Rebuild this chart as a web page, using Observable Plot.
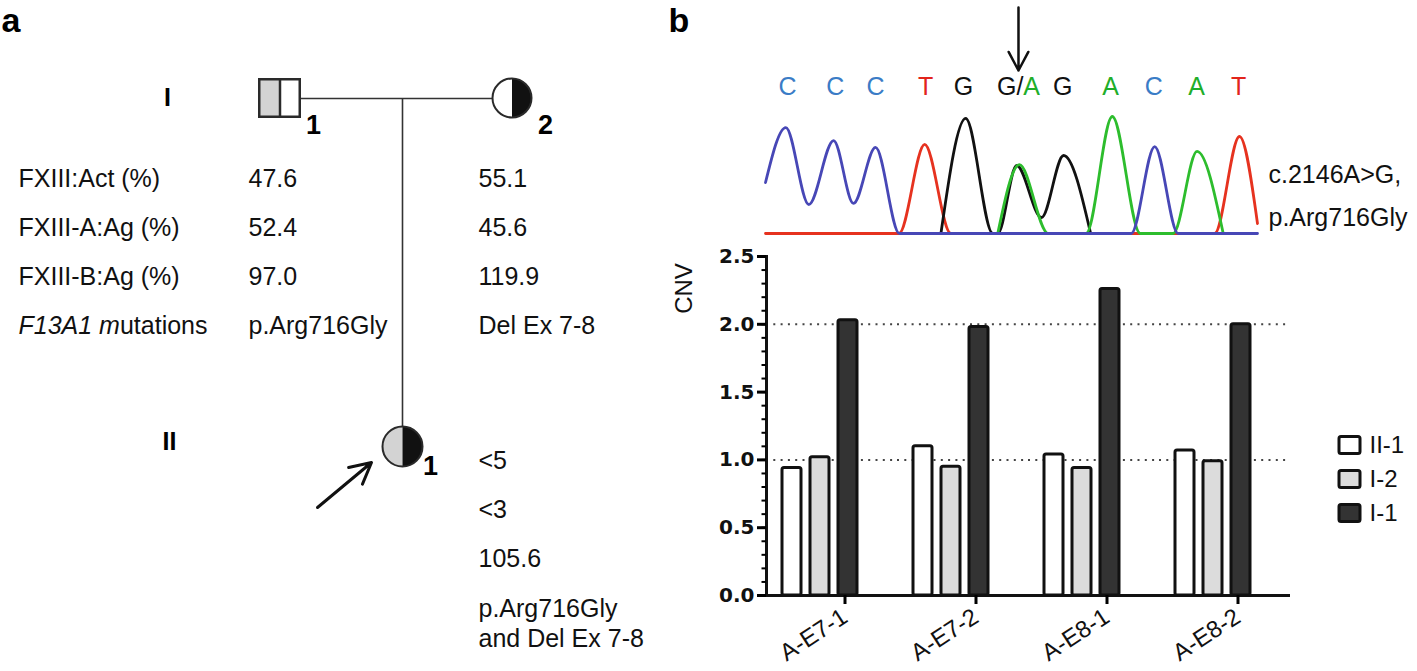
<!DOCTYPE html>
<html>
<head>
<meta charset="utf-8">
<script src="https://cdn.jsdelivr.net/npm/d3@7"></script>
<script src="https://cdn.jsdelivr.net/npm/@observablehq/plot@0.6"></script>
<style>
html, body { margin: 0; padding: 0; background: #fff; }
#fig { position: relative; width: 1417px; height: 671px; overflow: hidden; background: #fff;
       font-family: "Liberation Sans", Arial, sans-serif; }
#fig > svg { position: absolute; background: transparent; }
</style>
</head>
<body>
<div id="fig"></div>
<script>
// ---------------- DATA ----------------
// Panel a: pedigree and laboratory table
const generations = ["I", "II"];
const tableRows = ["FXIII:Act (%)", "FXIII-A:Ag (%)", "FXIII-B:Ag (%)", "F13A1 mutations"];
const valuesI1 = ["47.6", "52.4", "97.0", "p.Arg716Gly"];
const valuesI2 = ["55.1", "45.6", "119.9", "Del Ex 7-8"];
const valuesII1 = ["<5", "<3", "105.6", "p.Arg716Gly\nand Del Ex 7-8"];
const pedigree = [
  {id: "I-1", generation: "I", number: "1", sex: "male", left: "p.Arg716Gly", right: null, proband: false},
  {id: "I-2", generation: "I", number: "2", sex: "female", left: null, right: "Del Ex 7-8", proband: false},
  {id: "II-1", generation: "II", number: "1", sex: "female", left: "p.Arg716Gly", right: "Del Ex 7-8", proband: true}
];
const couples = [{father: "I-1", mother: "I-2", child: "II-1"}];

// Panel b: Sanger trace (position in base-call units, signal intensity)
const baseCalls = ["C", "C", "C", "T", "G", "G/A", "G", "A", "C", "A", "T"];
const callPositions = [0, 1.06, 1.95, 3.06, 3.9, 5.12, 6.1, 7.16, 8.12, 9.07, 10];
const variantPosition = 5.12;
const mutationLabel = ["c.2146A>G,", "p.Arg716Gly"];
const traceC = [[-0.49, 392], [-0.04, 815], [0.47, 223], [1.02, 715], [1.46, 231], [1.95, 662], [2.48, 0], [7.62, 0], [8.14, 669], [8.66, 0], [10.42, 0]];
const traceT = [[-0.49, 0], [2.47, 0], [3.04, 685], [3.62, 0], [9.47, 0], [10.02, 746], [10.42, 77]];
const traceG = [[3.4, 0], [3.95, 885], [4.55, 0], [4.66, 0], [5.08, 523], [5.63, 123], [6.12, 600], [6.72, 0]];
const traceA = [[4.66, 0], [5.14, 530], [5.78, 0], [6.62, 0], [7.2, 900], [7.82, 0], [8.55, 0], [9.08, 631], [9.66, 0]];

// Panel b: CNV bar chart
const categories = ["A-E7-1", "A-E7-2", "A-E8-1", "A-E8-2"];
const samples = ["II-1", "I-2", "I-1"];
const cnvII1 = [0.94, 1.10, 1.04, 1.07];
const cnvI2 = [1.02, 0.95, 0.94, 0.99];
const cnvI1 = [2.03, 1.98, 2.26, 2.00];
const yMajorTicks = [0, 0.5, 1.0, 1.5, 2.0, 2.5];
const yMinorTicks = d3.range(0, 26).map(i => i / 10);
const referenceLevels = [1, 2];

// ---------------- STYLE / LAYOUT ----------------
const FONT = "Liberation Sans, Arial, sans-serif";
const fig = document.getElementById("fig");
function place(svg, left, top) { svg.style.left = left + "px"; svg.style.top = top + "px"; fig.appendChild(svg); return svg; }
function restyle(svg, match, build) {
  d3.select(svg).selectAll("text").filter(function () { return this.textContent === match; })
    .each(function () { const t = d3.select(this); t.text(""); build(t); });
}
const alleleFill = a => a === "p.Arg716Gly" ? "#d3d3d3" : a === "Del Ex 7-8" ? "#111111" : "#ffffff";
const baseColor = {A: "#1fae2a", C: "#3a7cc6", G: "#111111", T: "#e2241b"};
const traceColor = {A: "#2dbd2d", C: "#4747b6", G: "#111111", T: "#e6321f"};

// pixel layout of panel a (identity scales)
const memberPos = {"I-1": {x: 279.5, y: 98}, "I-2": {x: 511.5, y: 97.5}, "II-1": {x: 402, y: 446}};
const memberR = {"I-2": 19.5, "II-1": 20};
const genPos = {I: {x: 167, y: 97}, II: {x: 169, y: 441}};
const tableX = {label: 18, "I-1": 248, "I-2": 478, "II-1": 478};
const parentBaselines = [186, 235, 284, 333];
const childBaselines = [468, 517, 566, 646];
const SQ_HW = 20.25, SQ_HH = 18.75;

function halfDisc(side) {
  return {draw(ctx, size) {
    const r = Math.sqrt(size / Math.PI);
    ctx.moveTo(0, -r);
    ctx.arc(0, 0, r, -Math.PI / 2, Math.PI / 2, side === "left");
    ctx.closePath();
  }};
}

// ---------------- PANEL A ----------------
const males = pedigree.filter(d => d.sex === "male");
const females = pedigree.filter(d => d.sex === "female");
const P = d => memberPos[d.id];
const tableTexts = [
  ...tableRows.map((t, i) => ({text: t, x: tableX.label, y: parentBaselines[i]})),
  ...valuesI1.map((t, i) => ({text: t, x: tableX["I-1"], y: parentBaselines[i]})),
  ...valuesI2.map((t, i) => ({text: t, x: tableX["I-2"], y: parentBaselines[i]})),
  ...valuesII1.map((t, i) => ({text: t, x: tableX["II-1"], y: childBaselines[i]}))
];

const panelA = Plot.plot({
  width: 690, height: 671, margin: 0,
  x: {type: "identity", axis: null}, y: {type: "identity", axis: null}, r: {type: "identity"},
  style: {fontFamily: FONT, background: "transparent"},
  marks: [
    Plot.text(["a"], {frameAnchor: "top-left", dx: 1, dy: 31, lineAnchor: "bottom", textAnchor: "start", fontSize: 34, fontWeight: "bold"}),
    Plot.text(generations, {x: g => genPos[g].x, y: g => genPos[g].y, text: g => g, fontSize: 25, fontWeight: "bold", lineAnchor: "middle"}),
    // relationship lines
    Plot.link(couples, {x1: d => memberPos[d.father].x + SQ_HW, y1: d => memberPos[d.father].y,
      x2: d => memberPos[d.mother].x - memberR[d.mother], y2: d => memberPos[d.father].y, stroke: "#333", strokeWidth: 1.6}),
    Plot.link(couples, {x1: d => memberPos[d.child].x, y1: d => memberPos[d.father].y,
      x2: d => memberPos[d.child].x, y2: d => memberPos[d.child].y - memberR[d.child], stroke: "#333", strokeWidth: 1.6}),
    // males: squares split in halves
    Plot.rect(males, {x1: d => P(d).x - SQ_HW, x2: d => P(d).x, y1: d => P(d).y - SQ_HH, y2: d => P(d).y + SQ_HH, fill: d => alleleFill(d.left)}),
    Plot.rect(males, {x1: d => P(d).x, x2: d => P(d).x + SQ_HW, y1: d => P(d).y - SQ_HH, y2: d => P(d).y + SQ_HH, fill: d => alleleFill(d.right)}),
    Plot.rect(males, {x1: d => P(d).x - SQ_HW, x2: d => P(d).x + SQ_HW, y1: d => P(d).y - SQ_HH, y2: d => P(d).y + SQ_HH, fill: "none", stroke: "#2a2a2a", strokeWidth: 2.5}),
    Plot.ruleX(males, {x: d => P(d).x, y1: d => P(d).y - SQ_HH, y2: d => P(d).y + SQ_HH, stroke: "#2a2a2a", strokeWidth: 2.5}),
    // females: circles split in halves
    Plot.dot(females, {x: d => P(d).x, y: d => P(d).y, r: d => memberR[d.id], symbol: halfDisc("left"), fill: d => alleleFill(d.left), stroke: "none"}),
    Plot.dot(females, {x: d => P(d).x, y: d => P(d).y, r: d => memberR[d.id], symbol: halfDisc("right"), fill: d => alleleFill(d.right), stroke: "none"}),
    Plot.dot(females, {x: d => P(d).x, y: d => P(d).y, r: d => memberR[d.id], fill: "none", stroke: "#2a2a2a", strokeWidth: 2}),
    // individual numbers
    Plot.text(pedigree, {x: d => P(d).x + (d.generation === "I" ? 33.5 : 28), y: d => P(d).y + (d.generation === "I" ? 27 : 20),
      text: "number", fontSize: 27, fontWeight: "bold", lineAnchor: "middle"}),
    // proband arrow
    Plot.arrow(pedigree.filter(d => d.proband), {x1: d => P(d).x - 85, y1: d => P(d).y + 61, x2: d => P(d).x - 31, y2: d => P(d).y + 16,
      stroke: "#111", strokeWidth: 3, headLength: 15, headAngle: 55}),
    // table
    Plot.text(tableTexts, {x: "x", y: "y", text: "text", textAnchor: "start", lineAnchor: "bottom", fontSize: 25, lineHeight: 1.2, fill: "#111"})
  ]
});
place(panelA, 0, 0);
restyle(panelA, "F13A1 mutations", t => { t.append("tspan").attr("font-style", "italic").text("F13A1 m"); t.append("tspan").text("utations"); });

// ---------------- PANEL B: chromatogram ----------------
const traces = [["T", traceT], ["G", traceG], ["A", traceA], ["C", traceC]];
const chrom = Plot.plot({
  width: 777, height: 240, marginLeft: 125, marginRight: 160, marginTop: 0, marginBottom: 0,
  x: {domain: [-0.49, 10.42], axis: null},
  y: {domain: [0, 1000], range: [233, 103], axis: null},
  color: {type: "identity"},
  style: {fontFamily: FONT, background: "transparent", overflow: "visible"},
  marks: [
    ...traces.map(([b, tr]) => Plot.line(tr, {curve: "monotone-x", stroke: traceColor[b], strokeWidth: 2.8})),
    Plot.text(baseCalls, {x: (d, i) => callPositions[i], frameAnchor: "top", dy: 86, lineAnchor: "middle",
      fill: d => baseColor[d[0]], fontSize: 25}),
    Plot.arrow([variantPosition], {x1: d => d, x2: d => d, y1: 1738, y2: 1254, stroke: "#111", strokeWidth: 2.5, headLength: 15, headAngle: 56}),
    Plot.text([mutationLabel.join("\n")], {frameAnchor: "top-left", dx: 503, dy: 225, textAnchor: "start", lineAnchor: "bottom", lineHeight: 1.72, fontSize: 25, fill: "#111"}),
    Plot.text(["b"], {frameAnchor: "top-left", dx: -97, dy: 31, lineAnchor: "bottom", textAnchor: "start", fontSize: 34, fontWeight: "bold"})
  ]
});
place(chrom, 640, 0);
restyle(chrom, "G/A", t => { t.append("tspan").text("G/"); t.append("tspan").attr("fill", baseColor.A).text("A"); });

// ---------------- PANEL B: CNV bars ----------------
const cnvBySample = {"II-1": cnvII1, "I-2": cnvI2, "I-1": cnvI1};
const rows = categories.flatMap((c, i) => samples.map(s => ({category: c, sample: s, cnv: cnvBySample[s][i]})));
const sampleColors = {domain: samples, range: ["#ffffff", "#dcdcdc", "#333333"]};

const bars = Plot.plot({
  width: 777, height: 431, marginLeft: 126, marginRight: 127, marginTop: 16, marginBottom: 76,
  style: {fontFamily: FONT, background: "transparent", overflow: "visible"},
  fx: {domain: categories, paddingInner: 0, paddingOuter: 0},
  x: {domain: samples, paddingInner: 0.316, paddingOuter: 0.956, align: 0.28, axis: null},
  y: {domain: [0, 2.5]},
  color: sampleColors,
  marks: [
    Plot.ruleY(referenceLevels, {stroke: "#444", strokeWidth: 2, strokeDasharray: "2 5.3"}),
    Plot.barY(rows, {fx: "category", x: "sample", y: "cnv", fill: "sample", stroke: "#111", strokeWidth: 3, rx: 2}),
    Plot.ruleY([0], {stroke: "#111", strokeWidth: 3}),
    Plot.frame({anchor: "left", facetAnchor: "left", stroke: "#111", strokeWidth: 3}),
    Plot.axisY(yMinorTicks, {tickSize: 4.5, strokeWidth: 2, tickFormat: () => "", label: null}),
    Plot.axisY(yMajorTicks, {tickSize: 9, strokeWidth: 3, tickPadding: 3, tickFormat: d3.format(".1f"), label: null,
      fontSize: 20, fontWeight: "bold", fontFamily: "DejaVu Sans", fill: "#111"}),
    Plot.axisFx({anchor: "bottom", tickSize: 9, strokeWidth: 3, tickRotate: -33, tickPadding: 10, dx: 13, fontSize: 24, label: null, fill: "#111"}),
    Plot.text(["CNV"], {frameAnchor: "top-left", facetAnchor: "left", rotate: -90, dx: -82, dy: 32, textAnchor: "middle", lineAnchor: "middle", fontSize: 24, fill: "#111"})
  ]
});
place(bars, 640, 240);

// ---------------- legend ----------------
const legend = Plot.plot({
  width: 97, height: 110, margin: 0,
  x: {type: "band", domain: ["swatch"], range: [18.5, 39.5], padding: 0, axis: null},
  y: {type: "band", domain: samples, range: [3, 105], padding: 0, axis: null},
  color: sampleColors,
  style: {fontFamily: FONT, background: "transparent", overflow: "visible"},
  marks: [
    Plot.cell(samples, {x: () => "swatch", y: d => d, fill: d => d, stroke: "#111", strokeWidth: 3, insetTop: 8.5, insetBottom: 8.5, rx: 2}),
    Plot.text(samples, {y: d => d, frameAnchor: "left", dx: 49, textAnchor: "start", fontSize: 24, fill: "#111"})
  ]
});
place(legend, 1320, 425);
</script>
</body>
</html>
